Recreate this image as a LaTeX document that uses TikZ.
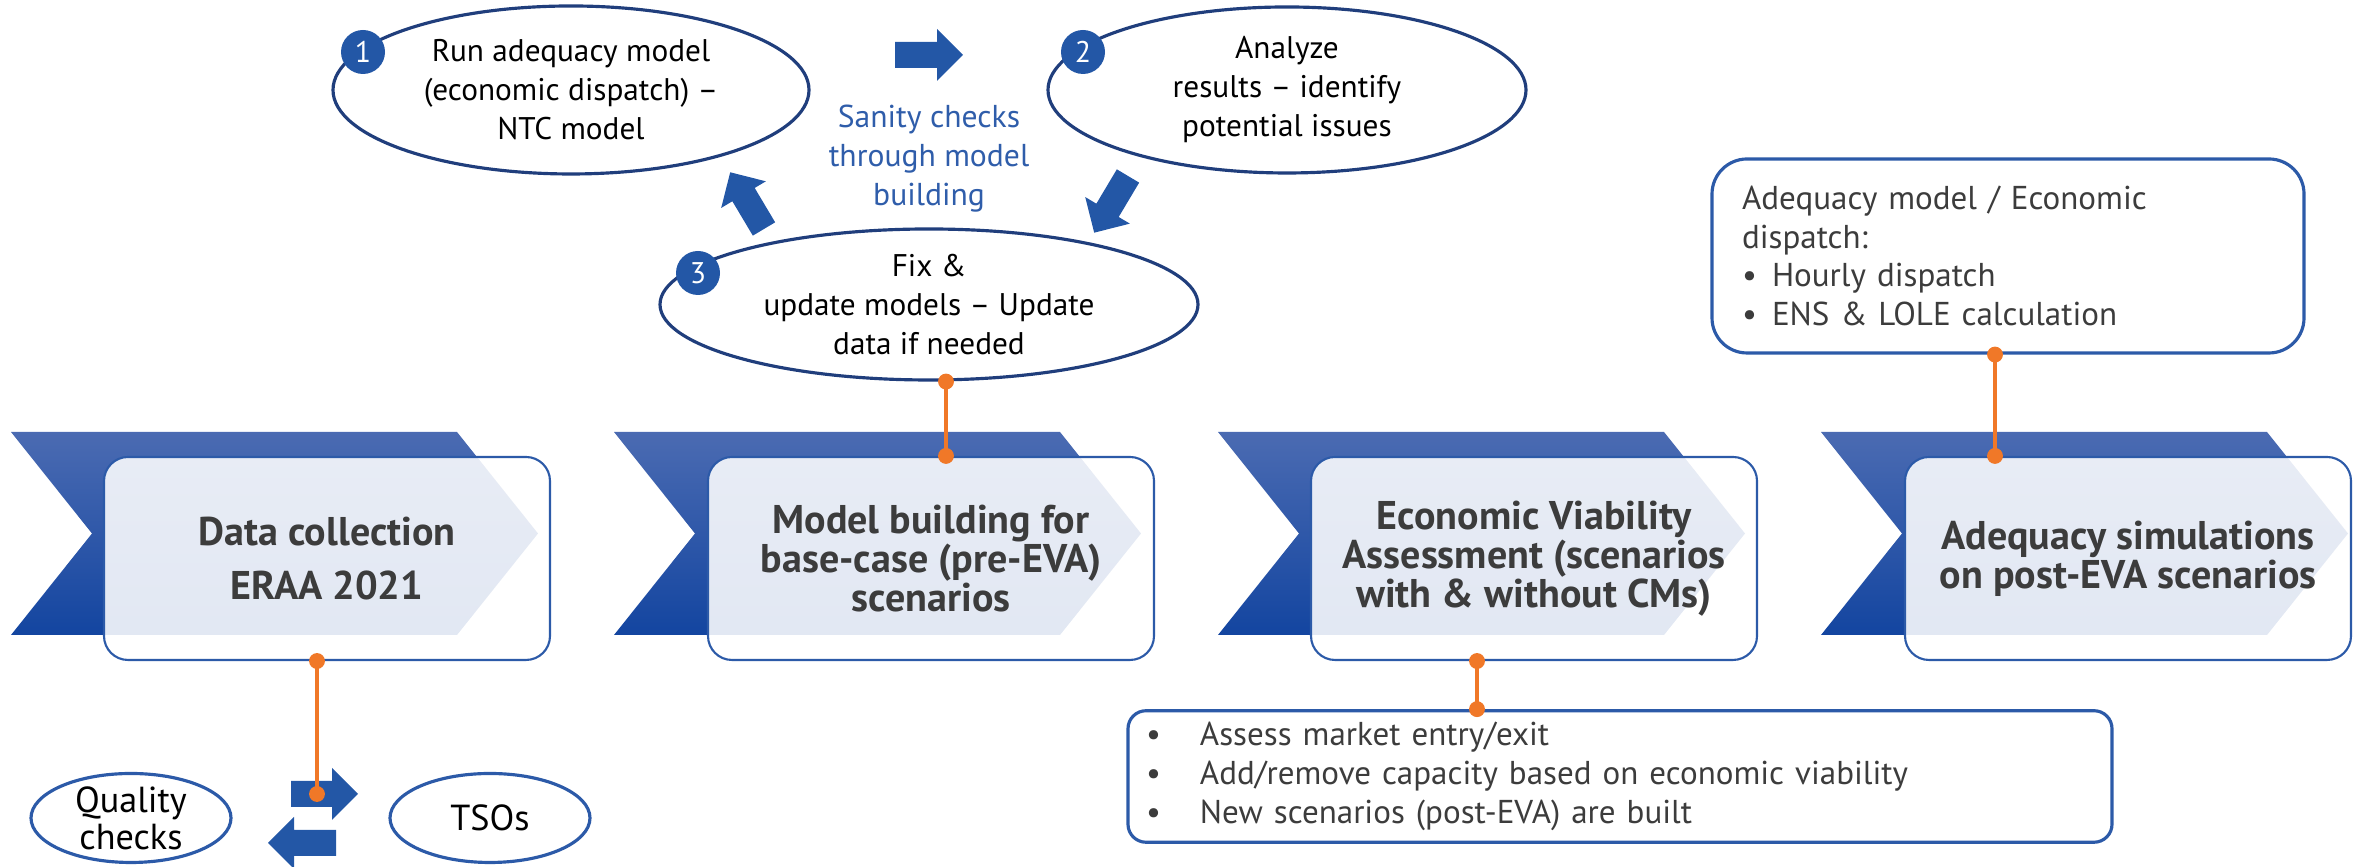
\documentclass[tikz,border=0pt]{standalone}
\usepackage{fontspec}
\setmainfont{PT Sans}
\usetikzlibrary{shapes.geometric,arrows.meta}

\definecolor{chevtop}{HTML}{4B6BB2}
\definecolor{chevmid}{HTML}{1F54AC}
\definecolor{chevbot}{HTML}{1345A0}
\definecolor{frameblue}{HTML}{2C5AA8}
\definecolor{ellnavy}{HTML}{203E7C}
\definecolor{arrowblue}{HTML}{2357A6}
\definecolor{linkorange}{HTML}{F07828}
\definecolor{darktext}{HTML}{3C3C3C}
\definecolor{sanityblue}{HTML}{2F5DAA}

\tikzset{
  stagebox/.style={rectangle, rounded corners=0.24cm, draw=frameblue, line width=0.6pt,
    fill=white, fill opacity=0.88, text opacity=1, minimum width=4.46cm, minimum height=2.03cm,
    align=center, text=darktext, font=\bfseries\fontsize{11.4}{11.1}\selectfont},
  loopell/.style={ellipse, draw=ellnavy, line width=0.9pt, inner sep=0pt},
  looptext/.style={align=center, font=\fontsize{8.9}{11.1}\selectfont},
  numdot/.style={circle, fill=arrowblue, text=white, inner sep=0pt, minimum size=0.44cm,
    font=\fontsize{8.5}{10}\selectfont},
  sideell/.style={ellipse, draw=frameblue, line width=0.9pt, inner sep=0pt,
    minimum width=2cm, minimum height=0.89cm},
  sidetext/.style={align=center, font=\fontsize{10.3}{10.6}\selectfont},
  infobox/.style={rectangle, draw=frameblue, line width=0.9pt, fill=white, align=left,
    text=darktext, font=\fontsize{9.4}{11}\selectfont},
  orangelink/.style={draw=linkorange, line width=1.1pt,
    arrows={Circle[length=4.5pt]-Circle[length=4.5pt]}, shorten <=-2.25pt, shorten >=-2.25pt},
}
\newcommand{\bluearrow}[3]{%
  \fill[arrowblue, shift={(#1)}, rotate=#2] (0,-0.13) -- ({#3-0.26},-0.13) -- ({#3-0.26},-0.26)
    -- (#3,0) -- ({#3-0.26},0.26) -- ({#3-0.26},0.13) -- (0,0.13) -- cycle;}

\begin{document}
\begin{tikzpicture}
  \useasboundingbox (0,0) rectangle (23.61,8.67);

  \foreach \cx in {0.11,6.14,12.18,18.21}
    \shade[top color=chevtop, middle color=chevmid, bottom color=chevbot]
      (\cx,4.35) -- ++(4.46,0) -- ++(0.81,-1.015) -- ++(-0.81,-1.015) -- ++(-4.46,0) -- ++(0.81,1.015) -- cycle;

  \node[stagebox] (dc) at (3.27,3.085) {Data collection\\[4.5pt]ERAA 2021};
  \node[stagebox] (mb) at (9.31,3.085) {Model building for\\base-case (pre-EVA)\\scenarios};
  \node[stagebox] (eva) at (15.34,3.085) {Economic Viability\\Assessment (scenarios\\with \& without CMs)};
  \node[stagebox] (sim) at (21.28,3.085) {Adequacy simulations\\on post-EVA scenarios};

  \node[loopell, minimum width=4.76cm, minimum height=1.68cm] (run) at (5.71,7.77) {};
  \node[looptext] (runtxt) at (run.center) {Run adequacy model\\(economic dispatch) –\\NTC model};
  \node[loopell, minimum width=4.78cm, minimum height=1.66cm] (ana) at (12.87,7.77) {};
  \node[looptext] (anatxt) at (ana.center) {Analyze\\results – identify\\potential issues};
  \node[loopell, minimum width=5.38cm, minimum height=1.51cm] (fix) at (9.29,5.625) {};
  \node[looptext] (fixtxt) at (fix.center) {Fix \&\\update models – Update\\data if needed};

  \node[numdot] (n1) at (3.63,8.15) {1};
  \node[numdot] (n2) at (10.83,8.15) {2};
  \node[numdot] (n3) at (6.98,5.94) {3};

  \node[align=center, text=sanityblue, font=\fontsize{9}{11.1}\selectfont] (sanity) at (9.29,7.08)
    {Sanity checks\\through model\\building};

  \bluearrow{8.95,8.12}{0}{0.68}
  \bluearrow{11.28,6.91}{239.2}{0.66}
  \bluearrow{7.64,6.38}{120.8}{0.66}

  \node[infobox, rounded corners=0.35cm, minimum height=1.94cm, text width=5.32cm, inner xsep=0.30cm]
    (adeq) at (20.08,6.11)
    {Adequacy model / Economic\\dispatch:\\\makebox[0.30cm][l]{\textbullet}Hourly dispatch\\
     \makebox[0.30cm][l]{\textbullet}ENS \& LOLE calculation};

  \node[infobox, rounded corners=0.18cm, minimum height=1.29cm, text width=9.48cm, inner xsep=0.18cm]
    (cm) at (16.20,0.905)
    {\makebox[0.54cm][l]{\textbullet}Assess market entry/exit\\
     \makebox[0.54cm][l]{\textbullet}Add/remove capacity based on economic viability\\
     \makebox[0.54cm][l]{\textbullet}New scenarios (post-EVA) are built};

  \node[sideell] (qc) at (1.31,0.49) {};
  \node[sidetext] (qctxt) at (qc.center) {Quality\\checks};
  \node[sideell] (tso) at (4.90,0.49) {};
  \node[sidetext] (tsotxt) at (tso.center) {TSOs};

  \bluearrow{2.91,0.73}{0}{0.67}
  \bluearrow{3.36,0.24}{180}{0.68}
  \coordinate (tsoin) at (3.17,0.73);

  \draw[orangelink] (dc.south -| tsoin) -- (tsoin);
  \draw[orangelink] ([xshift=0.17cm]fix.south) -- ([xshift=0.17cm]fix.south |- mb.north);
  \draw[orangelink] ([xshift=-0.57cm]eva.south) -- ([xshift=-0.57cm]eva.south |- cm.north);
  \draw[orangelink] ([xshift=-0.13cm]adeq.south) -- ([xshift=-0.13cm]adeq.south |- sim.north);
\end{tikzpicture}
\end{document}
